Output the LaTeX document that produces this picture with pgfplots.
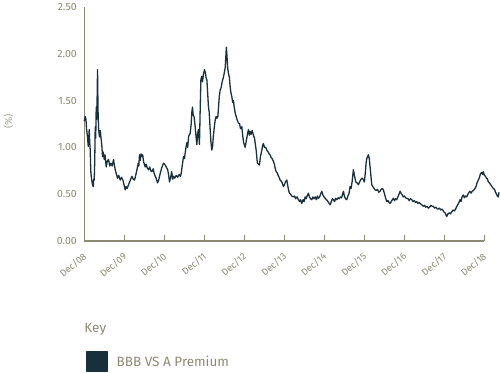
\documentclass[border=0pt]{standalone}
\usepackage{pgfplots}
\pgfplotsset{compat=1.18}
\usepackage{pgfplotstable}
\usepackage{fontspec}
\setmainfont{Fira Sans}
\definecolor{axgray}{RGB}{140,137,115}
\definecolor{navy}{RGB}{24,48,60}
\pgfplotstableread{
px v
84 1.28
85 1.33
85.7 1.30
86.3 1.20
87.3 1.11
88 1.01
88.5 1.10
89 1.19
89.5 1.05
90 0.97
90.4 0.80
90.7 0.72
91.5 0.65
92.3 0.60
93 0.58
93.5 0.66
94 0.65
94.5 0.85
95 1.22
95.5 1.10
96 1.43
96.6 1.30
97.3 1.83
97.8 1.40
98.3 1.22
98.8 1.15
99.3 1.11
100 1.18
101 1.08
101.6 1.02
102.3 0.90
103 0.95
104 0.87
104.8 0.92
106 0.79
107 0.85
108.3 0.87
109.5 0.80
110.7 0.83
112 0.80
113.3 0.87
114 0.82
115 0.76
116 0.72
117.3 0.67
118.5 0.70
120 0.65
121.3 0.68
122.7 0.65
123.8 0.60
125 0.545
126 0.58
127 0.56
128.3 0.60
129.5 0.63
130.5 0.66
131.7 0.69
133 0.66
134.3 0.65
135.5 0.70
137.3 0.79
138 0.83
138.6 0.80
139.3 0.92
140 0.86
140.8 0.93
141.7 0.90
142.5 0.92
143.3 0.85
145 0.79
146 0.82
147 0.78
148.3 0.76
149.5 0.79
150.5 0.75
151.7 0.74
153 0.77
154 0.72
155 0.69
156 0.67
157.3 0.62
158.5 0.65
160 0.72
161.5 0.78
163.3 0.83
164.5 0.82
166 0.79
167.5 0.76
168.5 0.70
169.3 0.63
170.5 0.68
171.5 0.74
172.5 0.66
173.3 0.69
174.5 0.67
176 0.70
177.5 0.68
179 0.71
180.3 0.69
181 0.72
182 0.80
183.3 0.90
184.3 0.88
185.5 0.98
186.7 1.05
187.5 1.00
188.5 1.12
190 1.15
191 1.25
191.7 1.38
192.3 1.43
193 1.35
194 1.32
195 1.22
195.8 1.12
196.7 1.03
197.5 1.15
198.3 1.19
199.3 1.03
200 1.40
200.7 1.72
201.5 1.76
202.3 1.70
203.3 1.78
204.3 1.83
205.2 1.80
206 1.74
206.7 1.72
207.5 1.58
208.3 1.43
209 1.38
210 1.19
210.8 1.05
211.7 0.97
212.5 1.02
213.2 1.12
214 1.20
215 1.29
216 1.33
216.8 1.31
217.7 1.33
218.5 1.45
219.2 1.55
220 1.61
221 1.64
222 1.70
223.3 1.75
224.2 1.80
225 1.85
225.6 1.95
226.2 2.07
226.8 1.98
227.5 1.85
228.3 1.79
229.2 1.75
230 1.65
230.8 1.58
231.7 1.54
232.5 1.48
233.3 1.50
234.2 1.42
235 1.37
236 1.33
236.8 1.30
238.3 1.26
239.5 1.25
240.3 1.20
241.7 1.22
242.6 1.12
243.5 1.05
245 1.00
246 1.06
247 1.12
248.3 1.19
249.3 1.13
250 1.17
251 1.14
252 1.18
253.3 1.13
254.3 1.10
255 1.05
256 0.97
256.8 0.88
257.3 0.83
258.3 0.82
259.3 0.81
260.3 0.90
261.7 0.97
262.5 1.02
263.3 1.04
264.3 1.00
265.5 1.00
266.7 0.97
268 0.95
269 0.93
270 0.92
271 0.89
272 0.88
273.3 0.85
274.3 0.82
275 0.78
276 0.74
277 0.73
278 0.70
279 0.68
280 0.65
281 0.64
282 0.62
283.3 0.58
284.3 0.60
285.3 0.63
286.7 0.65
287.5 0.60
288.3 0.55
289.3 0.51
290.5 0.50
291.5 0.48
293.3 0.47
294.5 0.48
295.5 0.45
297 0.47
298.3 0.44
299.5 0.42
300.5 0.44
301.7 0.40
303 0.44
304 0.42
305 0.47
306 0.45
307 0.48
308.3 0.51
309.3 0.47
310.5 0.45
311.7 0.44
312.8 0.47
314 0.45
315 0.47
316.3 0.44
317.3 0.48
318.3 0.455
319.5 0.47
320.5 0.50
321.7 0.53
322.8 0.49
324 0.47
325 0.455
326.2 0.44
327.3 0.43
328.5 0.41
330 0.385
331.2 0.42
332.3 0.45
333.3 0.44
334.5 0.42
335.5 0.455
336.7 0.44
338 0.46
339.2 0.45
340.3 0.47
341.5 0.46
342.5 0.50
343.3 0.53
344.5 0.47
345.5 0.45
346.7 0.44
347.8 0.48
348.8 0.50
350 0.58
351 0.56
352 0.63
353.3 0.76
354.5 0.69
355.7 0.63
357 0.62
358.3 0.60
359.5 0.63
360.5 0.65
361.7 0.67
363 0.66
364.3 0.63
365.2 0.72
366 0.83
366.7 0.88
367.5 0.90
368.3 0.92
369.2 0.88
370 0.79
370.8 0.70
371.7 0.60
372.8 0.58
374 0.56
375 0.545
376.3 0.54
377.5 0.55
378.7 0.52
380 0.53
381 0.55
382.2 0.56
383.3 0.545
384.5 0.50
385.5 0.46
386.7 0.42
388 0.43
389 0.41
390 0.40
391.2 0.42
392.3 0.44
393.3 0.455
394.5 0.43
395.5 0.45
396.7 0.44
397.8 0.47
399 0.50
400 0.53
401 0.51
402.2 0.49
403.3 0.47
404.5 0.48
405.5 0.46
406.7 0.455
408 0.45
409.2 0.43
410.3 0.45
411.7 0.44
413 0.42
414.3 0.43
415.5 0.41
416.7 0.42
418 0.40
419.3 0.41
420 0.40
421.7 0.385
423.3 0.37
424.5 0.38
425.7 0.36
427 0.37
428.3 0.35
429.5 0.36
430.7 0.38
432 0.37
433.3 0.37
434.5 0.35
436 0.36
437.2 0.34
438.3 0.34
439.5 0.35
440.7 0.33
442 0.34
442.7 0.33
443.8 0.31
445 0.30
446.7 0.26
448 0.29
449.3 0.30
450.5 0.29
451.7 0.31
453 0.33
454.5 0.32
456 0.35
457.3 0.38
458.5 0.40
460 0.44
461 0.42
462 0.47
463.3 0.49
464.3 0.46
465.5 0.48
466.7 0.47
468 0.50
469 0.52
470 0.53
471 0.51
472.2 0.53
473.5 0.54
475 0.56
476 0.58
477 0.62
478.3 0.65
479.5 0.68
480.5 0.72
481.7 0.73
482.5 0.71
483.3 0.74
484.3 0.70
485.5 0.69
486.5 0.67
487.5 0.66
488.3 0.63
489.5 0.62
490.7 0.60
492 0.58
493.3 0.56
494.5 0.55
495.5 0.52
496.5 0.50
497.3 0.48
498.3 0.47
499 0.52
}\premium
\begin{document}
\begin{tikzpicture}
\begin{axis}[
  at={(0,0)}, anchor=south west,
  scale only axis, width=400pt, height=234pt,
  xmin=0, xmax=10, ymin=0, ymax=2.5,
  clip=false,
  axis x line=bottom, axis y line=left,
  axis line style={-, draw=axgray, line width=1.3pt},
  xtick={0,1,...,10},
  xticklabels={Dec/08,Dec/09,Dec/10,Dec/11,Dec/12,Dec/13,Dec/14,Dec/15,Dec/16,Dec/17,Dec/18},
  x tick label style={font=\fontsize{9.5}{11}\selectfont, text=axgray, anchor=east, xshift=3.5pt, yshift=-12pt, rotate=40},
  xtick style={draw=axgray, line width=1pt},
  tick align=inside,
  major tick length=6pt,
  ytick={0,0.5,1,1.5,2,2.5},
  ytick style={draw=none},
  /pgf/number format/assume math mode=true,
  y tick label style={font=\fontsize{10.5}{12}\selectfont, text=axgray, xshift=-4pt},
  yticklabel={\pgfmathprintnumber[fixed,fixed zerofill,precision=2]{\tick}},
  ylabel={(\%)},
  ylabel style={at={(axis description cs:-0.19,0.51)}, anchor=center, rotate=0, text=axgray!80, font=\fontsize{10}{12}\selectfont},
  legend style={at={(axis description cs:0.005,-0.517)}, anchor=west, draw=none, fill=none,
    inner sep=0pt, font=\fontsize{13.5}{15}\selectfont, text=axgray,
    /tikz/every odd column/.append style={column sep=7pt}},
  legend image code/.code={\fill[navy] (0pt,-10pt) rectangle (20pt,10pt);},
]
\addplot[navy, line width=1.3pt, line join=round] table[x expr={(\thisrow{px}-84)/40}, y=v] {\premium};
\addlegendentry{BBB VS A Premium}
\node[anchor=west, inner sep=0pt, text=axgray, font=\fontsize{13.5}{15}\selectfont] at (axis description cs:0.0,-0.38) {Key};
\end{axis}
\path[use as bounding box] (-84pt,-131pt) rectangle (416pt,241pt);
\end{tikzpicture}
\end{document}
